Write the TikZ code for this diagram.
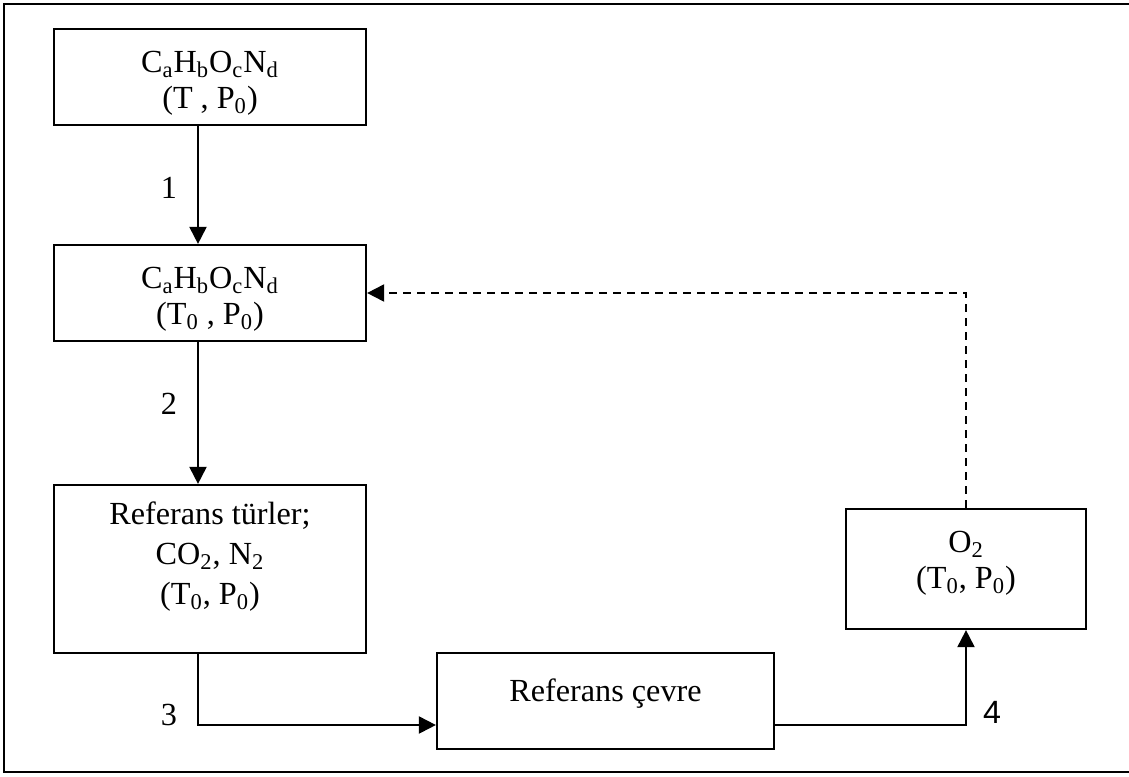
\documentclass[tikz,border=0pt]{standalone}
\usepackage{fontspec}
\setmainfont{Liberation Serif}
\newfontfamily\sansf{Liberation Sans}
\usetikzlibrary{arrows.meta}
\begin{document}
\begin{tikzpicture}[x=0.5pt,y=-0.5pt,
  box/.style={draw,line width=1.1pt,minimum width=156pt,minimum height=48pt,inner sep=0pt},
  txt/.style={anchor=base,inner sep=0pt,font=\fontsize{16.1}{19}\selectfont},
  arr/.style={line width=1pt,-{Triangle[width=8.5pt,length=8.5pt]}},
  darr/.style={arr,dash pattern=on 4pt off 3pt}]
\useasboundingbox (0,0) rectangle (1129,776);
\draw[line width=1pt] (4,4) rectangle (1140,772);
% boxes
\node[box] (A) at (210,77) {};
\node[box] (B) at (210,293) {};
\node[box,minimum height=84pt] (C) at (210,569) {};
\node[box,minimum width=168.5pt] (D) at (605.5,701) {};
\node[box,minimum width=120pt,minimum height=60pt] (E) at (966,569) {};
% texts
\node[txt] (a1) at (210,72) {C\textsubscript{a}H\textsubscript{b}O\textsubscript{c}N\textsubscript{d}};
\node[txt] (a2) at (210,108) {(T , P\textsubscript{0})};
\node[txt] (b1) at (210,288) {C\textsubscript{a}H\textsubscript{b}O\textsubscript{c}N\textsubscript{d}};
\node[txt] (b2) at (210,324) {(T\textsubscript{0} , P\textsubscript{0})};
\node[txt] (c1) at (210,524) {Referans türler;};
\node[txt] (c2) at (210,564) {CO\textsubscript{2}, N\textsubscript{2}};
\node[txt] (c3) at (210,604) {(T\textsubscript{0}, P\textsubscript{0})};
\node[txt] (d1) at (605.5,701) {Referans çevre};
\node[txt] (e1) at (966,552) {O\textsubscript{2}};
\node[txt] (e2) at (966,588) {(T\textsubscript{0}, P\textsubscript{0})};
% labels
\node[txt] (l1) at (169,198) {1};
\node[txt] (l2) at (169,414) {2};
\node[txt] (l3) at (169,725) {3};
\node[txt,font=\fontsize{16.1}{19}\sansf] (l4) at (992,723) {4};
% connectors
\draw[arr] ([xshift=-6pt]A.south) -- ([xshift=-6pt]B.north);
\draw[arr] ([xshift=-6pt]B.south) -- ([xshift=-6pt]C.north);
\draw[arr] ([xshift=-6pt]C.south) |- ([yshift=-12pt]D.west);
\draw[arr] ([yshift=-12pt]D.east) -| (E.south);
\draw[darr] (E.north) |- (B.east);
\end{tikzpicture}
\end{document}
